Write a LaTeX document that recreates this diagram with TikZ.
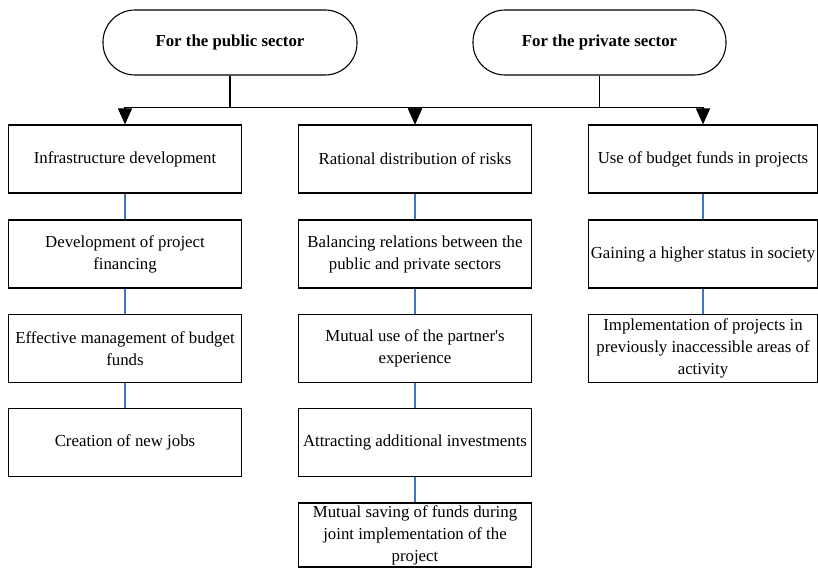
\documentclass[tikz,border=0pt]{standalone}
\usepackage{fontspec}
\setmainfont{Liberation Serif}
\usepackage{tikz}
\usetikzlibrary{arrows.meta}

\definecolor{linkblue}{RGB}{68,114,196}

\tikzset{
  head/.style={draw, line width=1.1pt, rounded corners=32pt, minimum width=254pt,
    minimum height=65pt, font=\fontsize{16.8}{22}\selectfont\bfseries},
  item/.style={draw, line width=1.2pt, minimum width=233pt, minimum height=68pt,
    align=center, inner sep=1pt, font=\fontsize{16.8}{22}\selectfont},
  link/.style={line width=1.4pt, linkblue},
  arr/.style={line width=1.1pt, -{Triangle[width=14pt,length=16pt]}}
}

\begin{document}
\begin{tikzpicture}[x=1pt, y=-1pt]
    \useasboundingbox (0,0) rectangle (818,568);

    % Draw the two sectors
    \node[head] (pub) at (230,42.5) {For the public sector};
    \node[head, minimum width=253pt] (priv) at (599.5,42.5) {For the private sector};

    % Draw the public sector column
    \node[item] (l1) at (125,159) {Infrastructure development};
    \node[item] (l2) at (125,254) {Development of project\\financing};
    \node[item] (l3) at (125,348.5) {Effective management of budget\\funds};
    \node[item] (l4) at (125,442.5) {Creation of new jobs};

    % Draw the common column
    \node[item] (m1) at (415,159) {Rational distribution of risks};
    \node[item] (m2) at (415,254) {Balancing relations between the\\public and private sectors};
    \node[item] (m3) at (415,348.5) {Mutual use of the partner\textquotesingle s\\experience};
    \node[item] (m4) at (415,442.5) {Attracting additional investments};
    \node[item, minimum height=64pt] (m5) at (415,535) {Mutual saving of funds during\\joint implementation of the\\project};

    % Draw the private sector column
    \node[item, minimum width=229pt] (r1) at (703,159) {Use of budget funds in projects};
    \node[item, minimum width=229pt] (r2) at (703,254) {Gaining a higher status in society};
    \node[item, minimum width=229pt] (r3) at (703,348.5) {Implementation of projects in\\previously inaccessible areas of\\activity};

    % Draw the arrows from the sectors
    \draw[arr] (pub.south) -- ++(0,32) -| (l1.north);
    \draw[arr] (pub.south) -- ++(0,32) -| (m1.north);
    \draw[arr] (priv.south) -- ++(0,32) -| (m1.north);
    \draw[arr] (priv.south) -- ++(0,32) -| (r1.north);

    % Draw the links inside the columns
    \draw[link] (l1) -- (l2);
    \draw[link] (l2) -- (l3);
    \draw[link] (l3) -- (l4);
    \draw[link] (m1) -- (m2);
    \draw[link] (m2) -- (m3);
    \draw[link] (m3) -- (m4);
    \draw[link] (m4) -- (m5);
    \draw[link] (r1) -- (r2);
    \draw[link] (r2) -- (r3);
\end{tikzpicture}
\end{document}
